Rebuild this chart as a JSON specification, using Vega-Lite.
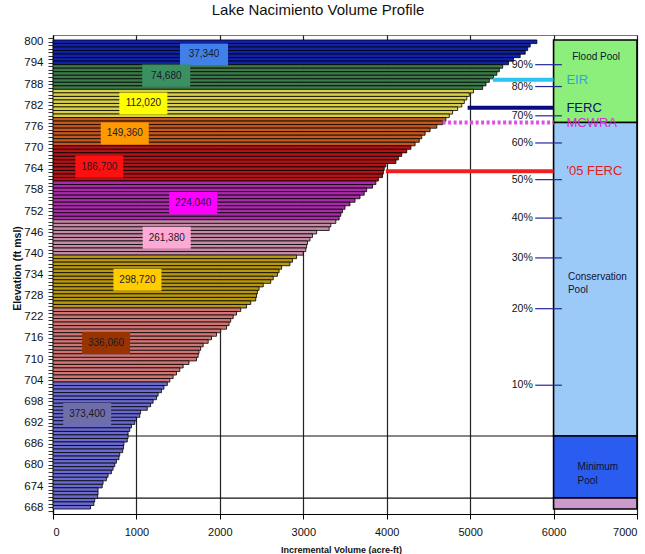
{
  "$schema": "https://vega.github.io/schema/vega-lite/v6.json",
  "width": 584,
  "height": 479,
  "autosize": {"type": "none"},
  "padding": {"left": 53, "top": 35, "right": 8, "bottom": 40},
  "background": "white",
  "title": {"text": "Lake Nacimiento Volume Profile", "font": "Liberation Sans", "fontSize": 15, "fontWeight": "normal", "color": "#111111", "offset": 14, "dx": -27},
  "config": {"view": {"stroke": "#777777", "strokeWidth": 1}},
  "datasets": {
    "bars": [
      {"e": 800, "v": 5800, "b": "37,340"}, {"e": 799, "v": 5720, "b": "37,340"}, {"e": 798, "v": 5690, "b": "37,340"}, {"e": 797, "v": 5660, "b": "37,340"}, {"e": 796, "v": 5600, "b": "37,340"}, {"e": 795, "v": 5520, "b": "37,340"}, {"e": 794, "v": 5460, "b": "37,340"},
      {"e": 793, "v": 5390, "b": "74,680"}, {"e": 792, "v": 5350, "b": "74,680"}, {"e": 791, "v": 5320, "b": "74,680"}, {"e": 790, "v": 5280, "b": "74,680"}, {"e": 789, "v": 5230, "b": "74,680"}, {"e": 788, "v": 5190, "b": "74,680"}, {"e": 787, "v": 5150, "b": "74,680"},
      {"e": 786, "v": 5040, "b": "112,020"}, {"e": 785, "v": 4990, "b": "112,020"}, {"e": 784, "v": 4960, "b": "112,020"}, {"e": 783, "v": 4930, "b": "112,020"}, {"e": 782, "v": 4900, "b": "112,020"}, {"e": 781, "v": 4850, "b": "112,020"}, {"e": 780, "v": 4790, "b": "112,020"}, {"e": 779, "v": 4750, "b": "112,020"},
      {"e": 778, "v": 4710, "b": "149,360"}, {"e": 777, "v": 4670, "b": "149,360"}, {"e": 776, "v": 4600, "b": "149,360"}, {"e": 775, "v": 4520, "b": "149,360"}, {"e": 774, "v": 4460, "b": "149,360"}, {"e": 773, "v": 4420, "b": "149,360"}, {"e": 772, "v": 4390, "b": "149,360"}, {"e": 771, "v": 4340, "b": "149,360"},
      {"e": 770, "v": 4290, "b": "186,700"}, {"e": 769, "v": 4240, "b": "186,700"}, {"e": 768, "v": 4180, "b": "186,700"}, {"e": 767, "v": 4140, "b": "186,700"}, {"e": 766, "v": 4110, "b": "186,700"}, {"e": 765, "v": 3990, "b": "186,700"}, {"e": 764, "v": 3970, "b": "186,700"}, {"e": 763, "v": 3960, "b": "186,700"}, {"e": 762, "v": 3950, "b": "186,700"}, {"e": 761, "v": 3900, "b": "186,700"},
      {"e": 760, "v": 3870, "b": "224,040"}, {"e": 759, "v": 3830, "b": "224,040"}, {"e": 758, "v": 3760, "b": "224,040"}, {"e": 757, "v": 3730, "b": "224,040"}, {"e": 756, "v": 3680, "b": "224,040"}, {"e": 755, "v": 3620, "b": "224,040"}, {"e": 754, "v": 3560, "b": "224,040"}, {"e": 753, "v": 3500, "b": "224,040"}, {"e": 752, "v": 3470, "b": "224,040"}, {"e": 751, "v": 3450, "b": "224,040"}, {"e": 750, "v": 3430, "b": "224,040"},
      {"e": 749, "v": 3390, "b": "261,380"}, {"e": 748, "v": 3330, "b": "261,380"}, {"e": 747, "v": 3310, "b": "261,380"}, {"e": 746, "v": 3160, "b": "261,380"}, {"e": 745, "v": 3110, "b": "261,380"}, {"e": 744, "v": 3080, "b": "261,380"}, {"e": 743, "v": 3050, "b": "261,380"}, {"e": 742, "v": 3040, "b": "261,380"}, {"e": 741, "v": 3030, "b": "261,380"}, {"e": 740, "v": 3000, "b": "261,380"},
      {"e": 739, "v": 2920, "b": "298,720"}, {"e": 738, "v": 2870, "b": "298,720"}, {"e": 737, "v": 2840, "b": "298,720"}, {"e": 736, "v": 2740, "b": "298,720"}, {"e": 735, "v": 2710, "b": "298,720"}, {"e": 734, "v": 2690, "b": "298,720"}, {"e": 733, "v": 2640, "b": "298,720"}, {"e": 732, "v": 2610, "b": "298,720"}, {"e": 731, "v": 2520, "b": "298,720"}, {"e": 730, "v": 2470, "b": "298,720"}, {"e": 729, "v": 2450, "b": "298,720"}, {"e": 728, "v": 2440, "b": "298,720"}, {"e": 727, "v": 2430, "b": "298,720"}, {"e": 726, "v": 2370, "b": "298,720"}, {"e": 725, "v": 2320, "b": "298,720"},
      {"e": 724, "v": 2250, "b": "336,060"}, {"e": 723, "v": 2200, "b": "336,060"}, {"e": 722, "v": 2160, "b": "336,060"}, {"e": 721, "v": 2130, "b": "336,060"}, {"e": 720, "v": 2110, "b": "336,060"}, {"e": 719, "v": 2080, "b": "336,060"}, {"e": 718, "v": 2010, "b": "336,060"}, {"e": 717, "v": 1960, "b": "336,060"}, {"e": 716, "v": 1900, "b": "336,060"}, {"e": 715, "v": 1860, "b": "336,060"}, {"e": 714, "v": 1800, "b": "336,060"}, {"e": 713, "v": 1770, "b": "336,060"}, {"e": 712, "v": 1750, "b": "336,060"}, {"e": 711, "v": 1740, "b": "336,060"}, {"e": 710, "v": 1720, "b": "336,060"}, {"e": 709, "v": 1630, "b": "336,060"}, {"e": 708, "v": 1560, "b": "336,060"}, {"e": 707, "v": 1520, "b": "336,060"}, {"e": 706, "v": 1480, "b": "336,060"}, {"e": 705, "v": 1440, "b": "336,060"}, {"e": 704, "v": 1400, "b": "336,060"},
      {"e": 703, "v": 1370, "b": "373,400"}, {"e": 702, "v": 1330, "b": "373,400"}, {"e": 701, "v": 1300, "b": "373,400"}, {"e": 700, "v": 1260, "b": "373,400"}, {"e": 699, "v": 1240, "b": "373,400"}, {"e": 698, "v": 1200, "b": "373,400"}, {"e": 697, "v": 1170, "b": "373,400"}, {"e": 696, "v": 1130, "b": "373,400"}, {"e": 695, "v": 1050, "b": "373,400"}, {"e": 694, "v": 1040, "b": "373,400"}, {"e": 693, "v": 1000, "b": "373,400"}, {"e": 692, "v": 980, "b": "373,400"}, {"e": 691, "v": 940, "b": "373,400"}, {"e": 690, "v": 920, "b": "373,400"}, {"e": 689, "v": 900, "b": "373,400"}, {"e": 688, "v": 900, "b": "373,400"}, {"e": 687, "v": 890, "b": "373,400"}, {"e": 686, "v": 850, "b": "373,400"}, {"e": 685, "v": 845, "b": "373,400"}, {"e": 684, "v": 835, "b": "373,400"}, {"e": 683, "v": 800, "b": "373,400"}, {"e": 682, "v": 790, "b": "373,400"}, {"e": 681, "v": 760, "b": "373,400"}, {"e": 680, "v": 740, "b": "373,400"}, {"e": 679, "v": 720, "b": "373,400"}, {"e": 678, "v": 700, "b": "373,400"}, {"e": 677, "v": 660, "b": "373,400"}, {"e": 676, "v": 640, "b": "373,400"}, {"e": 675, "v": 600, "b": "373,400"}, {"e": 674, "v": 590, "b": "373,400"}, {"e": 673, "v": 540, "b": "373,400"}, {"e": 672, "v": 540, "b": "373,400"}, {"e": 671, "v": 535, "b": "373,400"}, {"e": 670, "v": 500, "b": "373,400"}, {"e": 669, "v": 490, "b": "373,400"}, {"e": 668, "v": 450, "b": "373,400"}
    ],
    "levels": [{"e": 688.2}, {"e": 670.6}],
    "pools": [
      {"p": "Flood", "top": 800.5, "bottom": 777.1},
      {"p": "Conservation", "top": 777.1, "bottom": 688.2},
      {"p": "Minimum", "top": 688.2, "bottom": 670.6},
      {"p": "Dead", "top": 670.6, "bottom": 667.5}
    ],
    "poolText": [
      {"t": "Flood Pool", "x": 6224, "e": 795.6},
      {"t": "Conservation\nPool", "x": 6172, "e": 733.4},
      {"t": "Minimum\nPool", "x": 6288, "e": 679.3}
    ],
    "pct": [
      {"p": "90%", "e": 793.5}, {"p": "80%", "e": 787.3}, {"p": "70%", "e": 779.0}, {"p": "60%", "e": 771.3}, {"p": "50%", "e": 760.9},
      {"p": "40%", "e": 750.0}, {"p": "30%", "e": 738.7}, {"p": "20%", "e": 724.3}, {"p": "10%", "e": 702.6}
    ],
    "marks": [
      {"n": "EIR", "e": 789.2, "s": 5272},
      {"n": "FERC", "e": 781.3, "s": 4970},
      {"n": "MCWRA", "e": 777.1, "s": 4670},
      {"n": "'05 FERC", "e": 763.3, "s": 3990}
    ],
    "boxes": [
      {"t": "37,340", "x": 1810, "e": 796.4},
      {"t": "74,680", "x": 1357, "e": 790.4},
      {"t": "112,020", "x": 1083, "e": 782.5},
      {"t": "149,360", "x": 860, "e": 774.0},
      {"t": "186,700", "x": 555, "e": 764.6},
      {"t": "224,040", "x": 1680, "e": 754.3},
      {"t": "261,380", "x": 1363, "e": 744.4},
      {"t": "298,720", "x": 1012, "e": 732.5},
      {"t": "336,060", "x": 636, "e": 714.6},
      {"t": "373,400", "x": 410, "e": 694.4}
    ]
  },
  "layer": [
    {
      "data": {"name": "levels"},
      "mark": {"type": "rule", "color": "#111111", "strokeWidth": 1.2},
      "encoding": {
        "y": {"field": "e", "type": "quantitative"},
        "x": {"datum": 0, "type": "quantitative"},
        "x2": {"datum": 6000}
      }
    },
    {
      "data": {"name": "bars"},
      "mark": {"type": "bar", "orient": "horizontal", "height": 3.6, "stroke": "#000000", "strokeWidth": 0.8},
      "encoding": {
        "x": {"field": "v", "type": "quantitative", "stack": null,
          "scale": {"domain": [0, 7000], "nice": false, "zero": true},
          "axis": {"values": [0, 1000, 2000, 3000, 4000, 5000, 6000, 7000], "format": "d", "title": "Incremental Volume (acre-ft)",
            "grid": true, "gridColor": "#222222", "gridWidth": 1.2, "gridOpacity": 1,
            "domainColor": "#000000", "domainWidth": 1.2, "tickColor": "#000000", "tickSize": 5,
            "labelFont": "Liberation Sans", "labelFontSize": 11, "labelColor": "#111111", "labelPadding": 7,
            "titleFont": "Liberation Sans", "titleFontSize": 9, "titleFontWeight": "bold", "titleColor": "#111111",
            "titleX": 288, "titleY": 35, "titleAlign": "center", "titleBaseline": "middle"}},
        "y": {"field": "e", "type": "quantitative",
          "scale": {"domain": [667.5, 800.5], "nice": false, "zero": false},
          "axis": {"tickCount": 133, "labelExpr": "(datum.value - 668) % 6 === 0 ? datum.label : ''", "labelOverlap": false, "labelBound": false,
            "grid": false, "title": "Elevation (ft msl)", "domainColor": "#000000", "domainWidth": 1.2, "tickColor": "#333333", "tickSize": 5,
            "labelFont": "Liberation Sans", "labelFontSize": 11.5, "labelColor": "#111111", "labelPadding": 5,
            "titleFont": "Liberation Sans", "titleFontSize": 10.5, "titleFontWeight": "bold", "titleColor": "#111111",
            "titleX": -36, "titleY": 233, "titleAlign": "center", "titleBaseline": "middle"}},
        "color": {"field": "b", "type": "nominal", "legend": null,
          "scale": {"domain": ["37,340", "74,680", "112,020", "149,360", "186,700", "224,040", "261,380", "298,720", "336,060", "373,400"],
            "range": ["#1222a8", "#3d7a4a", "#d8d048", "#c2581e", "#b01418", "#aa2aaa", "#c68aa6", "#b8980e", "#d07474", "#6a6ad0"]}}
      }
    },
    {
      "data": {"name": "pools"},
      "mark": {"type": "rect", "stroke": "#000000", "strokeWidth": 1.6},
      "encoding": {
        "x": {"datum": 6000, "type": "quantitative"},
        "x2": {"datum": 7000},
        "y": {"field": "top", "type": "quantitative"},
        "y2": {"field": "bottom"},
        "color": {"field": "p", "type": "nominal", "legend": null,
          "scale": {"domain": ["Flood", "Conservation", "Minimum", "Dead"], "range": ["#8cef7c", "#9ccaf8", "#2a5cf0", "#cc99cc"]}}
      }
    },
    {
      "data": {"name": "poolText"},
      "mark": {"type": "text", "align": "left", "baseline": "middle", "lineBreak": "\n", "lineHeight": 13.5, "font": "Liberation Sans", "fontSize": 10, "color": "#111133"},
      "encoding": {
        "x": {"field": "x", "type": "quantitative"},
        "y": {"field": "e", "type": "quantitative"},
        "text": {"field": "t"}
      }
    },
    {
      "data": {"name": "pct"},
      "mark": {"type": "rule", "color": "#26269a", "strokeWidth": 1.2},
      "encoding": {
        "x": {"datum": 5780, "type": "quantitative"},
        "x2": {"datum": 6100},
        "y": {"field": "e", "type": "quantitative"}
      }
    },
    {
      "data": {"name": "pct"},
      "mark": {"type": "text", "align": "right", "baseline": "middle", "font": "Liberation Sans", "fontSize": 10.5, "color": "#111111"},
      "encoding": {
        "x": {"datum": 5750, "type": "quantitative"},
        "y": {"field": "e", "type": "quantitative"},
        "text": {"field": "p"}
      }
    },
    {
      "data": {"name": "marks"},
      "mark": {"type": "rule", "strokeWidth": 4},
      "encoding": {
        "x": {"field": "s", "type": "quantitative"},
        "x2": {"datum": 6000},
        "y": {"field": "e", "type": "quantitative"},
        "color": {"field": "n", "type": "nominal", "legend": null,
          "scale": {"domain": ["EIR", "FERC", "MCWRA", "'05 FERC"], "range": ["#2ac4ee", "#0a0a80", "#e050e0", "#ee2020"]}},
        "strokeDash": {"field": "n", "type": "nominal", "legend": null,
          "scale": {"domain": ["EIR", "FERC", "MCWRA", "'05 FERC"], "range": [[1, 0], [1, 0], [3, 2.5], [1, 0]]}}
      }
    },
    {
      "data": {"name": "marks"},
      "mark": {"type": "text", "align": "left", "baseline": "middle", "font": "Liberation Sans", "fontSize": 13},
      "encoding": {
        "x": {"datum": 6154, "type": "quantitative"},
        "y": {"field": "e", "type": "quantitative"},
        "text": {"field": "n"},
        "color": {"field": "n", "type": "nominal", "legend": null,
          "scale": {"domain": ["EIR", "FERC", "MCWRA", "'05 FERC"], "range": ["#2aa4e0", "#0a0a80", "#cc33cc", "#e02020"]}}
      }
    },
    {
      "data": {"name": "boxes"},
      "mark": {"type": "point", "filled": true, "opacity": 1, "size": 2304, "shape": "M-1,-0.46L1,-0.46L1,0.46L-1,0.46Z"},
      "encoding": {
        "x": {"field": "x", "type": "quantitative"},
        "y": {"field": "e", "type": "quantitative"},
        "color": {"field": "t", "type": "nominal", "legend": null,
          "scale": {"domain": ["37,340", "74,680", "112,020", "149,360", "186,700", "224,040", "261,380", "298,720", "336,060", "373,400"],
            "range": ["#4080e8", "#3a9060", "#ffff00", "#ff9900", "#ff1010", "#ff00ff", "#ffaad4", "#ffcc00", "#993300", "#6e6eaa"]}}
      }
    },
    {
      "data": {"name": "boxes"},
      "mark": {"type": "text", "align": "center", "baseline": "middle", "font": "Liberation Sans", "fontSize": 10, "color": "#1a1a2a"},
      "encoding": {
        "x": {"field": "x", "type": "quantitative"},
        "y": {"field": "e", "type": "quantitative"},
        "text": {"field": "t"}
      }
    }
  ],
  "resolve": {"scale": {"color": "independent", "strokeDash": "independent"}}
}
